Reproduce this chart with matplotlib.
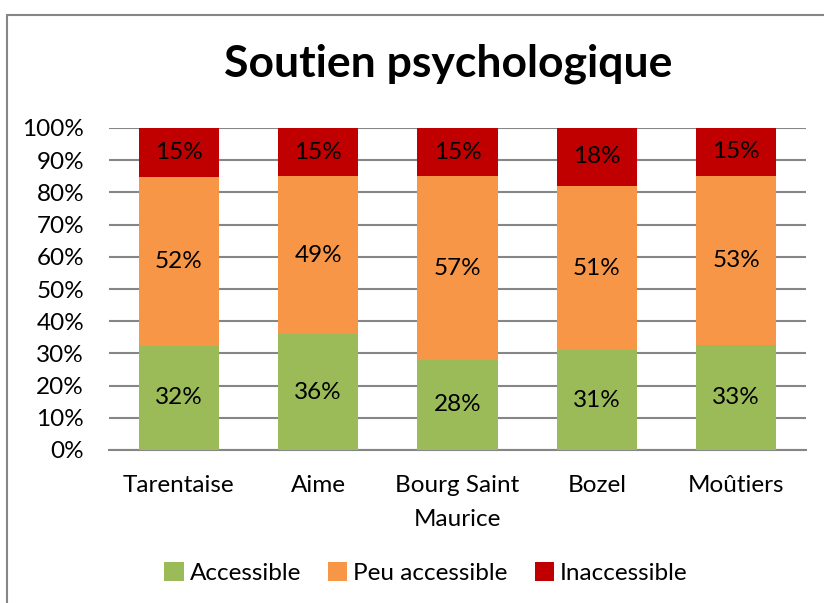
import numpy as np
import matplotlib.pyplot as plt
from matplotlib.patches import Rectangle
from matplotlib.ticker import PercentFormatter

plt.rcParams['font.family'] = ['Lato', 'DejaVu Sans']

# données
communes = ["Tarentaise", "Aime", "Bourg Saint\nMaurice", "Bozel", "Moûtiers"]
accessible = [32, 36, 28, 31, 33]
peu_accessible = [52, 49, 57, 51, 53]
inaccessible = [15, 15, 15, 18, 15]
series_noms = ["Accessible", "Peu accessible", "Inaccessible"]
couleurs = ["#9BBB59", "#F79646", "#C00000"]

valeurs = np.array([accessible, peu_accessible, inaccessible], dtype=float)
totaux = valeurs.sum(axis=0)
parts = valeurs / totaux * 100

fig = plt.figure(figsize=(8.24, 6.03), dpi=100)
ax = fig.add_axes([109 / 824, 1 - 450 / 603, 697 / 824, 322 / 603])

# cadre du graphique (coupé à droite et en bas)
fig.patches.append(Rectangle((7 / 824, -0.05), 1.1, 1 - 15 / 603 + 0.05,
                             transform=fig.transFigure, fill=False,
                             edgecolor="#868686", linewidth=1.5))

taille = 17.5
x = np.arange(len(communes))
bas = np.zeros(len(communes))
for i in range(3):
    barres = ax.bar(x, parts[i], bottom=bas, width=0.575, color=couleurs[i],
                    label=series_noms[i], zorder=3)
    for j, b in enumerate(barres):
        ax.text(b.get_x() + b.get_width() / 2, bas[j] + parts[i][j] / 2,
                f"{int(valeurs[i][j])}%", ha="center", va="center",
                fontsize=taille, color="black", zorder=4)
    bas += parts[i]

ax.set_xlim(-0.5, len(communes) - 0.5)
ax.set_ylim(0, 100)
ax.set_yticks(np.arange(0, 101, 10))
ax.yaxis.set_major_formatter(PercentFormatter(decimals=0))
ax.set_xticks(x)
ax.set_xticklabels(communes, fontsize=taille, linespacing=1.75)
ax.tick_params(axis="y", labelsize=taille, length=0, pad=18)
ax.tick_params(axis="x", length=0, pad=18)
ax.grid(axis="y", color="#868686", linewidth=1.5, zorder=0)
for s in ["left", "right", "top"]:
    ax.spines[s].set_visible(False)
ax.spines["bottom"].set_color("#868686")
ax.spines["bottom"].set_linewidth(1.5)

fig.text(448 / 824, 1 - 64 / 603, "Soutien psychologique", ha="center", va="center",
         fontsize=32, fontweight="bold")

fig.legend(loc="center", bbox_to_anchor=(426 / 824, 1 - 573 / 603), ncol=3,
           frameon=False, fontsize=taille, handlelength=0.8, handleheight=0.8,
           handletextpad=0.25, columnspacing=1.1)

fig.savefig("out.png", dpi=100)
